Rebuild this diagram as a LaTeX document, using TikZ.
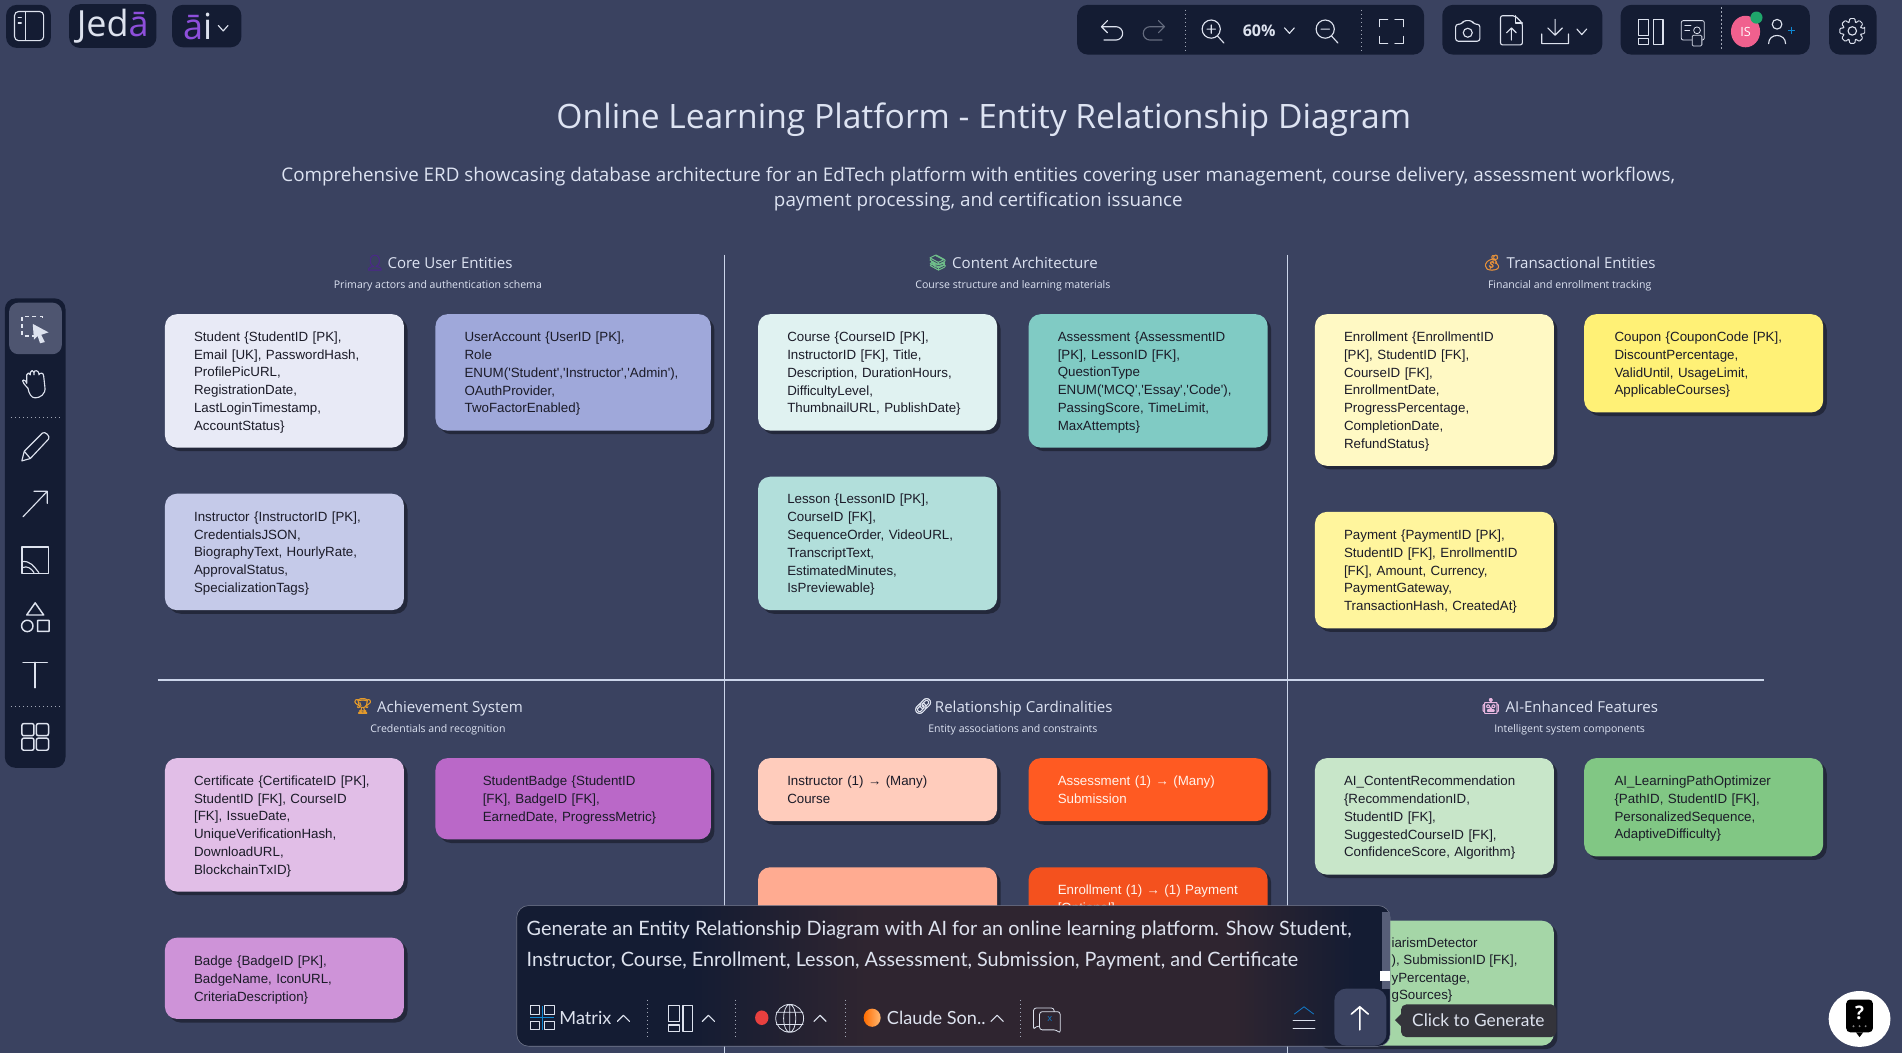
\documentclass[tikz,border=0pt]{standalone}
\usepackage{fontspec}
\usetikzlibrary{shadows}
\setmainfont{Open Sans}
\newfontfamily\uifont{Open Sans}
\newfontfamily\boxfont{Liberation Sans}
\newfontfamily\genfont{Lato}
\newfontfamily\emofont[FakeBold=2.2]{Noto Emoji}
\definecolor{bgc}{HTML}{3A4260}
\definecolor{bar}{HTML}{141C33}
\definecolor{rulec}{HTML}{CBD5EA}
\definecolor{icc}{HTML}{DDE2EE}
\definecolor{inkc}{HTML}{1B1B28}
\definecolor{whc}{HTML}{FFF3EC}
\definecolor{head}{HTML}{DDE3F2}
\definecolor{purp}{HTML}{8E4FDB}
\definecolor{avc}{HTML}{F0608E}\definecolor{grn}{HTML}{1FA66B}\definecolor{redd}{HTML}{E8403F}
\definecolor{tipc}{HTML}{34343B}\definecolor{midc}{HTML}{2F2530}
\definecolor{c1}{HTML}{E8EAF6}\definecolor{c2}{HTML}{9FA8DA}\definecolor{c3}{HTML}{C5CAE9}
\definecolor{c4}{HTML}{E0F2F1}\definecolor{c5}{HTML}{80CBC4}\definecolor{c6}{HTML}{B2DFDB}
\definecolor{c7}{HTML}{FFF9C4}\definecolor{c8}{HTML}{FFF176}\definecolor{c9}{HTML}{FFF59D}
\definecolor{d1}{HTML}{E1BEE7}\definecolor{d2}{HTML}{BA68C8}\definecolor{d3}{HTML}{CE93D8}
\definecolor{d4}{HTML}{FFCCBC}\definecolor{d5}{HTML}{FF5A22}\definecolor{d6}{HTML}{FFAB91}\definecolor{d7}{HTML}{F4511E}
\definecolor{e1}{HTML}{C8E6C9}\definecolor{e2}{HTML}{81C784}\definecolor{e3}{HTML}{A5D6A7}
\definecolor{gold}{HTML}{E39A2B}\definecolor{books}{HTML}{6FBF8A}\definecolor{bag}{HTML}{E8923A}\definecolor{bust}{HTML}{4A2A86}\definecolor{robo}{HTML}{E8B7E0}
\pgfdeclarehorizontalshading{panelsh}{100bp}{color(0bp)=(bar);color(35bp)=(bar);color(45bp)=(midc);color(66bp)=(midc);color(73bp)=(bar);color(100bp)=(bar)}
\tikzset{
 x=.90975pt,y=-.90975pt,
 ent/.style={rounded corners=9pt,inner xsep=0pt,inner ysep=0pt,align=left,
   font=\boxfont\fontsize{10}{13.35}\selectfont,
   general shadow={shadow xshift=2.7pt,shadow yshift=-2.7pt,fill=black,opacity=.38}},
 frag/.style={anchor=west,inner sep=0pt,text=inkc,font=\boxfont\fontsize{10}{13.35}\selectfont},
 sect/.style={anchor=base,inner sep=0pt,text=head,font=\uifont\fontsize{11.3}{14}\selectfont},
 sub/.style={anchor=base,inner sep=0pt,text=head,font=\uifont\fontsize{7.9}{10}\selectfont},
 emo/.style={inner sep=0pt,font=\emofont\fontsize{11.5}{13}\selectfont},
 barbox/.style={fill=bar,rounded corners=8pt,draw=none},
 ic/.style={draw=icc,line width=.85pt,line cap=round,line join=round},
 sepl/.style={draw=icc!70!bar,line width=.5pt,dash pattern=on 1pt off 2pt},
 rule/.style={draw=rulec,line width=1.05pt},
 gen/.style={anchor=west,inner sep=0pt,text=icc,font=\genfont\fontsize{14.85}{17}\selectfont},
 lab/.style={anchor=west,inner sep=0pt,text=icc,font=\genfont\fontsize{13.6}{16}\selectfont},
}
\def\lead{\rule{0pt}{9.5pt}}
\newcommand{\erbox}[9]{%
 \pgfmathsetmacro{\bw}{(#4-#2)*.90975}\pgfmathsetmacro{\bh}{(#5-#3)*.90975}\pgfmathsetmacro{\tw}{(#4-#2-2*#8)*.90975}%
 \node[ent,fill=#6,text=#7,minimum width=\bw pt,minimum height=\bh pt,text width=\tw pt] (#1) at ({(#2+#4)/2},{(#3+#5)/2}) {\lead #9};}
\newcommand{\chevd}[2]{\draw[ic] (#1-4,#2-2) -- (#1,#2+2.5) -- (#1+4,#2-2);}
\newcommand{\chevu}[2]{\draw[ic] (#1-5,#2+2.5) -- (#1,#2-2.5) -- (#1+5,#2+2.5);}
\begin{document}
\begin{tikzpicture}
\useasboundingbox (0,0) rectangle (1568,868.09);
\fill[bgc] (0,0) rectangle (1568,868.09);

% titles
\node[inner sep=0pt,text=head,font=\uifont\fontsize{25.2}{30}\selectfont] (title) at (811,99) {Online Learning Platform - Entity Relationship Diagram};
\node[inner sep=0pt,text=head,align=center,font=\uifont\fontsize{14.1}{18.8}\selectfont] (subtitle) at (806.5,155.5) {Comprehensive ERD showcasing database architecture for an EdTech platform with entities covering user management, course delivery, assessment workflows,\\payment processing, and certification issuance};

% rules
\coordinate (vt1) at (597.5,210);\coordinate (vb1) at (597.5,868.09);
\coordinate (vt2) at (1061.5,210);\coordinate (vb2) at (1061.5,868.09);
\coordinate (hl) at (130,560.5);\coordinate (hr) at (1454,560.5);
\draw[rule] (vt1) -- (vb1);\draw[rule] (vt2) -- (vb2);\draw[rule] (hl) -- (hr);

% section heads
\node[sect] (s1) at (371,221) {Core User Entities};
\node[emo,text=bust] (s1i) at (309,216.5) {👤};
\node[sub] (s1s) at (361,237.5) {Primary actors and authentication schema};
\node[sect] (s2) at (845,221) {Content Architecture};
\node[emo,text=books] (s2i) at (773,216.5) {📚};
\node[sub] (s2s) at (835,237.5) {Course structure and learning materials};
\node[sect] (s3) at (1303.5,221) {Transactional Entities};
\node[emo,text=bag] (s3i) at (1230,216.5) {💰};
\node[sub] (s3s) at (1294,237.5) {Financial and enrollment tracking};
\node[sect] (s4) at (371,587) {Achievement System};
\node[emo,text=gold] (s4i) at (299,582) {🏆};
\node[sub] (s4s) at (361,604) {Credentials and recognition};
\node[sect] (s5) at (844,587) {Relationship Cardinalities};
\node[emo,text=icc] (s5i) at (761,582) {🔗};
\node[sub] (s5s) at (835,604) {Entity associations and constraints};
\node[sect] (s6) at (1304,587) {AI-Enhanced Features};
\node[emo,text=robo] (s6i) at (1229,582) {🤖};
\node[sub] (s6s) at (1294,604) {Intelligent system components};

% entity boxes
\erbox{student}{136}{259}{333}{369}{c1}{inkc}{24}{Student \{StudentID [PK],\\Email [UK], PasswordHash,\\ProfilePicURL,\\RegistrationDate,\\LastLoginTimestamp,\\AccountStatus\}}
\erbox{useraccount}{359}{259}{586}{355}{c2}{inkc}{24}{UserAccount \{UserID [PK],\\Role\\ENUM('Student','Instructor','Admin'),\\OAuthProvider,\\TwoFactorEnabled\}}
\erbox{instructor}{136}{407}{333}{503}{c3}{inkc}{24}{Instructor \{InstructorID [PK],\\CredentialsJSON,\\BiographyText, HourlyRate,\\ApprovalStatus,\\SpecializationTags\}}
\erbox{course}{625}{259}{822}{355}{c4}{inkc}{24}{Course \{CourseID [PK],\\InstructorID [FK], Title,\\Description, DurationHours,\\DifficultyLevel,\\ThumbnailURL, PublishDate\}}
\erbox{assessment}{848}{259}{1045}{369}{c5}{inkc}{24}{Assessment \{AssessmentID\\{[PK]}, LessonID [FK],\\QuestionType\\ENUM('MCQ','Essay','Code'),\\PassingScore, TimeLimit,\\MaxAttempts\}}
\erbox{lesson}{625}{393}{822}{503}{c6}{inkc}{24}{Lesson \{LessonID [PK],\\CourseID [FK],\\SequenceOrder, VideoURL,\\TranscriptText,\\EstimatedMinutes,\\IsPreviewable\}}
\erbox{enrollment}{1084}{259}{1281}{384}{c7}{inkc}{24}{Enrollment \{EnrollmentID\\{[PK]}, StudentID [FK],\\CourseID [FK],\\EnrollmentDate,\\ProgressPercentage,\\CompletionDate,\\RefundStatus\}}
\erbox{coupon}{1306}{259}{1503}{340}{c8}{inkc}{25}{Coupon \{CouponCode [PK],\\DiscountPercentage,\\ValidUntil, UsageLimit,\\ApplicableCourses\}}
\erbox{payment}{1084}{422}{1281}{518}{c9}{inkc}{24}{Payment \{PaymentID [PK],\\StudentID [FK], EnrollmentID\\{[FK]}, Amount, Currency,\\PaymentGateway,\\TransactionHash, CreatedAt\}}
\erbox{certificate}{136}{625}{333}{735}{d1}{inkc}{24}{Certificate \{CertificateID [PK],\\StudentID [FK], CourseID\\{[FK]}, IssueDate,\\UniqueVerificationHash,\\DownloadURL,\\BlockchainTxID\}}
\erbox{studentbadge}{359}{625}{586}{692}{d2}{inkc}{39}{StudentBadge \{StudentID\\{[FK]}, BadgeID [FK],\\EarnedDate, ProgressMetric\}}
\erbox{badge}{136}{773}{333}{840}{d3}{inkc}{24}{Badge \{BadgeID [PK],\\BadgeName, IconURL,\\CriteriaDescription\}}
\erbox{rel3}{625}{715}{822}{790}{d6}{inkc}{24}{~}
\erbox{rel4}{848}{715}{1045}{767}{d7}{whc}{24}{Enrollment (1) → (1) Payment\\{[Optional]}}
\erbox{aicontent}{1084}{625}{1281}{721}{e1}{inkc}{24}{AI\_ContentRecommendation\\\{RecommendationID,\\StudentID [FK],\\SuggestedCourseID [FK],\\ConfidenceScore, Algorithm\}}
\erbox{ailearn}{1306}{625}{1503}{706}{e2}{inkc}{25}{AI\_LearningPathOptimizer\\\{PathID, StudentID [FK],\\PersonalizedSequence,\\AdaptiveDifficulty\}}
\erbox{plag}{1084}{759}{1281}{862}{e3}{inkc}{24}{~}
\def\lead{}
\erbox{rel1}{625}{625}{822}{677}{d4}{inkc}{24}{Instructor (1) → (Many)\\Course}
\erbox{rel2}{848}{625}{1045}{677}{d5}{whc}{24}{Assessment (1) → (Many)\\Submission}
\node[frag] (p1) at (1147,777.5) {iarismDetector};
\node[frag] (p2) at (1147,792) {), SubmissionID [FK],};
\node[frag] (p3) at (1147,807) {yPercentage,};
\node[frag] (p4) at (1147,821) {gSources\}};

% top-left bar
\fill[barbox] (5,4) rectangle (42,39.5);
\draw[ic,rounded corners=3pt] (12,9.5) rectangle (36,33.5);
\draw[ic] (21,10) -- (21,33);
\draw[ic] (15,14.5) -- (17.5,14.5) (15,19) -- (17.5,19);
\fill[barbox] (57,3.5) rectangle (129,39.5);
\node[inner sep=0pt,font=\uifont\fontsize{27}{30}\selectfont,text=icc] (logo) at (93,22) {Jed\textcolor{purp}{ā}};
\fill[barbox] (142,4) rectangle (199,39);
\node[inner sep=0pt,font=\uifont\fontsize{27}{30}\selectfont,text=icc] (logo2) at (163,22) {\textcolor{purp}{ā}i};
\chevd{184}{23}

% top-right bars
\fill[barbox] (888,4) rectangle (1174,45);
\fill[barbox] (1189,4) rectangle (1321,45);
\fill[barbox] (1336,4) rectangle (1492,45);
\fill[barbox] (1508,4) rectangle (1547,45);
\draw[sepl] (977,8) -- (977,42) (1122,8) -- (1122,42) (1419,6) -- (1419,42);
% undo redo
\begin{scope}[shift={(916,26)}]
\draw[ic] (-8,-4) -- (4,-4) arc(-90:90:5.5) -- (-6,7) (-8,-4) -- (-3,-9) (-8,-4) -- (-3,1);
\end{scope}
\begin{scope}[shift={(952,26)}]
\draw[ic,draw=icc!40!bar] (8,-4) -- (-4,-4) arc(270:90:5.5) -- (6,7) (8,-4) -- (3,-9) (8,-4) -- (3,1);
\end{scope}
% zoom
\begin{scope}[shift={(1000,26)}]
\draw[ic] (-1.5,-2) circle (7.5) (4,4) -- (9,9.5) (-5,-2) -- (2,-2) (-1.5,-5.5) -- (-1.5,1.5);
\end{scope}
\node[inner sep=0pt,text=icc,font=\uifont\bfseries\fontsize{12}{14}\selectfont] (pct) at (1038,25.5) {60\%};
\chevd{1063}{25}
\begin{scope}[shift={(1094,26)}]
\draw[ic] (-1.5,-2) circle (7.5) (4,4) -- (9,9.5) (-5,-2) -- (2,-2);
\end{scope}
\begin{scope}[shift={(1147,26)}]
\draw[ic] (-10,-4) -- (-10,-10) -- (-3,-10) (3,-10) -- (10,-10) -- (10,-4) (10,4) -- (10,10) -- (3,10) (-3,10) -- (-10,10) -- (-10,4);
\end{scope}
% camera, upload, download
\begin{scope}[shift={(1210,26)}]
\draw[ic,rounded corners=2pt] (-10,-6) -- (-5,-6) -- (-3.5,-9) -- (3.5,-9) -- (5,-6) -- (10,-6) -- (10,8) -- (-10,8) -- cycle;
\draw[ic] (0,1) circle (3.7);
\end{scope}
\begin{scope}[shift={(1246,26)}]
\draw[ic,rounded corners=1.5pt] (-9,-13) -- (3,-13) -- (9,-7) -- (9,11) -- (-9,11) -- cycle;
\draw[ic] (3,-13) -- (3,-7) -- (9,-7);
\draw[ic] (0,7) -- (0,-3) (-4,1) -- (0,-3) (4,1) -- (0,-3);
\end{scope}
\begin{scope}[shift={(1282,26)}]
\draw[ic] (0,-10) -- (0,3) (-6,-3) -- (0,3) (6,-3) -- (0,3) (-11,2) -- (-11,10) -- (11,10) -- (11,2);
\end{scope}
\chevd{1304}{26}
% layout, teacher, avatar, add user
\begin{scope}[shift={(1361,26)}]
\draw[ic] (-10,-10) rectangle (-2,3) (-10,6) rectangle (-2,11) (2,-10) rectangle (10,11);
\end{scope}
\begin{scope}[shift={(1396,26)}]
\draw[ic,line width=.6pt,rounded corners=1.5pt] (-10,-9) rectangle (9,7);
\draw[ic,line width=.6pt] (-7,-5) -- (-2,-5) (-7,-1) -- (-3,-1);
\draw[ic,line width=.6pt,fill=bar] (3,-1) circle (2.8);
\draw[ic,line width=.6pt,fill=bar,rounded corners=1pt] (-1,3) rectangle (7,12);
\end{scope}
\fill[avc] (1439,26) ellipse (12 and 13);
\node[inner sep=0pt,text=white,font=\uifont\fontsize{9.5}{10}\selectfont] (avatar) at (1439,26) {IS};
\fill[grn] (1448,14.5) circle (5);
\begin{scope}[shift={(1467,26)}]
\draw[ic] (-2,-6) circle (4);
\draw[ic] (-9,10) .. controls (-9,1) and (5,1) .. (5,10);
\draw[draw=cyan!70!blue,line width=.7pt] (7,-1) -- (13,-1) (10,-4) -- (10,2);
\end{scope}
\begin{scope}[shift={(1527,25.5)}]
\draw[ic] (0,0) circle (3.5);
\draw[ic,line width=.7pt,rounded corners=.8pt] (-12:10.5) \foreach \a in {0,45,...,315}{ -- (\a+12:10.5) -- (\a+19:7.6) -- (\a+26:7.6) -- (\a+33:10.5)} -- cycle;
\end{scope}

% left sidebar
\fill[barbox] (4,246) rectangle (54,633);
\fill[bgc!90!white,rounded corners=7pt] (7.5,249.5) rectangle (51,292);
\begin{scope}[shift={(29,271)}]
\draw[icc!85!white,line width=1.1pt,dash pattern=on 3pt off 2.5pt] (6,-9) -- (6,-10) -- (-11,-10) -- (-11,6) -- (-1,6);
\fill[icc] (-2,-4) -- (11,3) -- (5,5) -- (8,11) -- (4,12) -- (2,6) -- (-1,9) -- cycle;
\end{scope}
\begin{scope}[shift={(29,317)}]
\draw[ic] (-6,3) .. controls (-12,-3) and (-11,-5) .. (-8,-3) -- (-7,-1) -- (-7,-8) .. controls (-7,-10) and (-4,-10) .. (-4,-8) -- (-4,-10) .. controls (-4,-12) and (-1,-12) .. (-1,-10) -- (-1,-8);
\draw[ic] (-1,-10) .. controls (-1,-12) and (3,-12) .. (3,-9) -- (3,-8) .. controls (4,-10) and (7,-10) .. (7,-7) -- (8,2) .. controls (9,8) and (4,11) .. (0,11) .. controls (-3,11) and (-5,8) .. (-6,3);
\end{scope}
\draw[sepl] (9,344) -- (50,344) (9,582) -- (50,582);
\begin{scope}[shift={(29,368)}]
\draw[ic] (-11,12) -- (-9,4) -- (6,-11) .. controls (8,-13) and (13,-8) .. (11,-6) -- (-4,10) -- cycle (-9,4) -- (-4,10);
\end{scope}
\begin{scope}[shift={(29,415)}]
\draw[ic] (-10,11) -- (10,-10) (-1,-10) -- (10,-10) -- (10,0);
\end{scope}
\begin{scope}[shift={(29,462)}]
\draw[ic,line width=1.1pt] (-11,-11) rectangle (11,11);
\draw[ic] (-11,1) .. controls (-4,0) and (-1,5) .. (3,10) (-11,6) .. controls (-6,4) and (-3,7) .. (-1,10);
\end{scope}
\begin{scope}[shift={(29,510)}]
\draw[ic,line width=1.1pt] (0,-13) -- (7,-3) -- (-7,-3) -- cycle (-6.5,6) circle (4.7) (2,1.5) rectangle (11.5,10.5);
\end{scope}
\begin{scope}[shift={(29,556)}]
\draw[ic,line width=1.05pt] (-10,-10) -- (10,-10) (0,-10) -- (0,11);
\end{scope}
\begin{scope}[shift={(29,607.5)}]
\draw[ic,line width=1.1pt,rounded corners=1.5pt] (-11,-11) rectangle (-1,-1) (1,-11) rectangle (11,-1) (-11,1) rectangle (-1,11) (1,1) rectangle (11,11);
\end{scope}

% prompt panel
\path[shading=panelsh,rounded corners=9pt,draw=bgc!70!white,line width=.4pt] (426,746.5) rectangle (1146,862.5);
\fill[bgc!85!white] (1139,752) rectangle (1146,815);
\fill[white] (1138,800.5) rectangle (1146,809);
\node[gen] (prompt1) at (434,767) {Generate an Entity Relationship Diagram with AI for an online learning platform. Show Student,};
\node[gen] (prompt2) at (434,792) {Instructor, Course, Enrollment, Lesson, Assessment, Submission, Payment, and Certificate};
% bottom row
\begin{scope}[shift={(447,839)}]
\draw[ic] (-10,-10) rectangle (-2,-3) (2,-10) rectangle (10,-3) (-10,3) rectangle (-2,10) (2,3) rectangle (10,10);
\draw[cyan!70!blue,line width=.6pt] (-10,0) -- (10,0) (0,-10) -- (0,10);
\end{scope}
\node[lab] (matrix) at (461,839) {Matrix};
\chevu{514}{839.5}
\draw[sepl] (534,824) -- (534,856) (606,824) -- (606,856) (697,824) -- (697,856) (841,824) -- (841,856);
\begin{scope}[shift={(561,839)}]
\draw[ic] (-10,-10) rectangle (-1,3) (-10,6) rectangle (-1,11) (2,-10) rectangle (10,11);
\end{scope}
\chevu{584}{839.5}
\fill[redd] (628,839) ellipse (5.5 and 6);
\begin{scope}[shift={(651,839.5)}]
\draw[ic,line width=.6pt] (0,0) circle (11.5) (0,0) ellipse (5 and 11.5) (-11,-5) -- (11,-5) (-11,5) -- (11,5) (0,-11.5) -- (0,11.5);
\end{scope}
\chevu{676}{839.5}
\shade[left color=orange!85!red,right color=orange!55!white] (719,839) ellipse (7 and 7.5);
\node[lab] (claude) at (731,839) {Claude Son..};
\chevu{822}{839.5}
\begin{scope}[shift={(863,841)}]
\draw[ic,line width=.6pt,rounded corners=2pt] (-6,5) -- (-9,5) -- (-11,8) -- (-11,-10) -- (6,-10) -- (6,-7);
\draw[ic,line width=.6pt,rounded corners=2pt] (-6,-7) -- (11,-7) -- (11,11) -- (8,8) -- (-6,8) -- cycle;
\end{scope}
\node[inner sep=0pt,text=cyan!60!blue,font=\uifont\fontsize{7}{8}\selectfont] (chatx) at (865.5,840) {x};
\begin{scope}[shift={(1075,840)}]
\draw[cyan!60!blue,line width=.6pt] (-8,-4) -- (0,-10) -- (8,-4);
\draw[ic,line width=.7pt] (-9,1) -- (9,1) (-9,8) -- (9,8);
\end{scope}
\fill[bgc,rounded corners=9pt] (1100,815) rectangle (1143,862);
\begin{scope}[shift={(1121,839)}]
\draw[white,line width=1.2pt,line cap=round] (0,-9) -- (0,10) (-7,-3) -- (0,-9) -- (7,-3);
\end{scope}
% tooltip
\fill[tipc,rounded corners=4pt] (1155,828) rectangle (1283,855);
\fill[tipc] (1155,836) -- (1150,841) -- (1155,846) -- cycle;
\node[lab,text=icc,font=\genfont\fontsize{13}{15}\selectfont] (tip) at (1164,841) {Click to Generate};
% help
\fill[white] (1533,840) ellipse (25.5 and 23);
\fill[black,rounded corners=3pt] (1522,824) rectangle (1544,851);
\fill[black] (1530,851) -- (1536,851) -- (1533,855) -- cycle;
\node[inner sep=0pt,text=white,font=\uifont\bfseries\fontsize{14}{16}\selectfont] (help) at (1533,835) {?};
\fill[gray] (1528,846) circle (.9) (1533,846) circle (.9) (1538,846) circle (.9);
\end{tikzpicture}
\end{document}
